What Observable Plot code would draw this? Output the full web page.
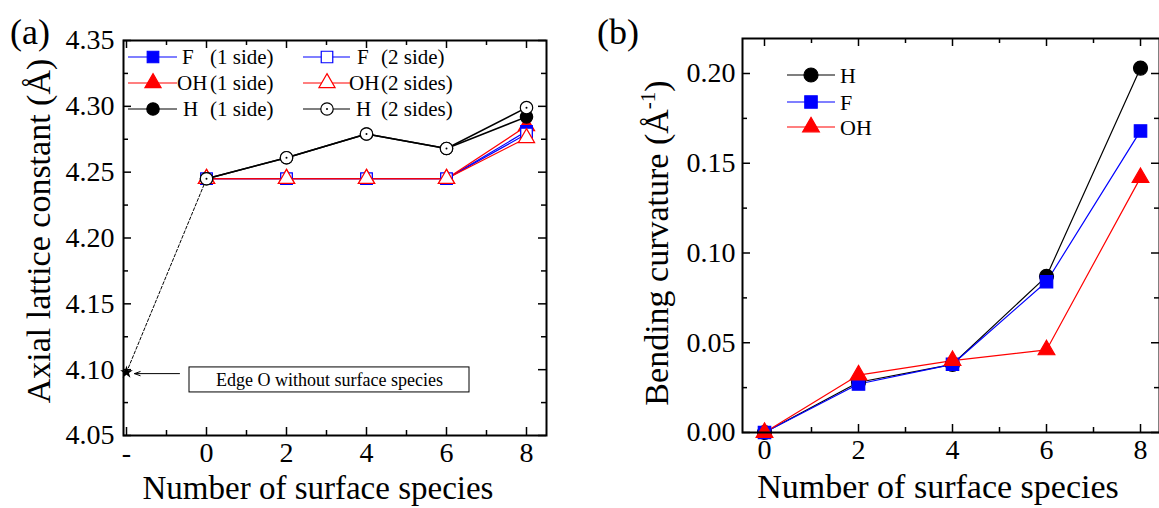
<!DOCTYPE html>
<html><head><meta charset="utf-8">
<script src="https://cdn.jsdelivr.net/npm/d3@7"></script>
<script src="https://cdn.jsdelivr.net/npm/@observablehq/plot@0.6"></script>
<style>
html,body{margin:0;padding:0;background:#fff;}
#wrap{position:relative;width:1159px;height:508px;overflow:hidden;font-family:"Liberation Serif","Times New Roman",serif;}
#wrap svg{position:absolute;top:0;overflow:visible;}
</style></head><body><div id="wrap"></div>
<script>
// ---------- data ----------
const speciesX = [0, 2, 4, 6, 8];
// panel (a): axial lattice constant (Å)
const aF1  = [4.245, 4.245, 4.245, 4.245, 4.281];
const aF2  = [4.245, 4.245, 4.245, 4.245, 4.279];
const aOH1 = [4.245, 4.245, 4.245, 4.245, 4.285];
const aOH2 = [4.245, 4.245, 4.245, 4.245, 4.276];
const aH1  = [4.245, 4.261, 4.279, 4.268, 4.292];
const aH2  = [4.245, 4.261, 4.279, 4.268, 4.299];
const edgeX = [-2];
const edgeY = [4.098];
// panel (b): bending curvature (1/Å)
const bH  = [0, 0.028, 0.038, 0.087, 0.203];
const bF  = [0, 0.027, 0.038, 0.084, 0.168];
const bOH = [0, 0.032, 0.040, 0.046, 0.142];
// ticks
const aXTicks = [-2, 0, 2, 4, 6, 8];
const aXMinor = [-1, 1, 3, 5, 7];
const aYTicks = [4.05, 4.10, 4.15, 4.20, 4.25, 4.30, 4.35];
const aYMinor = [4.075, 4.125, 4.175, 4.225, 4.275, 4.325];
const bXTicks = [0, 2, 4, 6, 8];
const bXMinor = [1, 3, 5, 7];
const bYTicks = [0, 0.05, 0.10, 0.15, 0.20];
const bYMinor = [0.025, 0.075, 0.125, 0.175];
// annotation in panel (a)
const noteText = "Edge O without surface species";
const noteBox = [{x1: -0.425, x2: 6.575, y1: 4.0827, y2: 4.1017}];
const noteArrow = [{x1: -0.675, x2: -1.8, y1: 4.097, y2: 4.097}];

// ---------- helpers ----------
const FONT = "Liberation Serif, Times New Roman, serif";
const rows = (ys) => speciesX.map((x, i) => ({x, y: ys[i]}));
const H = 508;

function inwardTicks(xMaj, xMin, yMaj, yMin, iw, ih) {
  const M = 8, m = 5, sw = 1.5;
  return [
    Plot.tickX(xMaj, {x: d => d, insetTop: ih - M, strokeWidth: sw}),
    Plot.tickX(xMaj, {x: d => d, insetBottom: ih - M, strokeWidth: sw}),
    Plot.tickX(xMin, {x: d => d, insetTop: ih - m, strokeWidth: sw}),
    Plot.tickX(xMin, {x: d => d, insetBottom: ih - m, strokeWidth: sw}),
    Plot.tickY(yMaj, {y: d => d, insetRight: iw - M, strokeWidth: sw}),
    Plot.tickY(yMaj, {y: d => d, insetLeft: iw - M, strokeWidth: sw}),
    Plot.tickY(yMin, {y: d => d, insetRight: iw - m, strokeWidth: sw}),
    Plot.tickY(yMin, {y: d => d, insetLeft: iw - m, strokeWidth: sw})
  ];
}

function seriesMarks(ys, s) {
  return Plot.dot(rows(ys), {
    x: "x", y: "y", symbol: s.symbol, r: s.r,
    fill: s.filled ? s.color : "white", stroke: s.color, strokeWidth: 1.2
  });
}

function addLegendItem(svg, s, x0, x1, xm, y) {
  const g = d3.select(svg).append("g");
  g.append("line").attr("x1", x0).attr("x2", x1).attr("y1", y).attr("y2", y)
    .attr("stroke", s.color).attr("stroke-width", 1.2);
  const symMap = {square: d3.symbolSquare, triangle: d3.symbolTriangle, circle: d3.symbolCircle};
  g.append("path").attr("d", d3.symbol(symMap[s.symbol], Math.PI * s.r * s.r)())
    .attr("transform", `translate(${xm},${y})`)
    .attr("fill", s.filled ? s.color : "white").attr("stroke", s.color).attr("stroke-width", 1.2);
  if (s.dotted) g.append("circle").attr("cx", xm).attr("cy", y).attr("r", 1).attr("fill", "black");
}

function addText(svg, txt, x, y, size, opts = {}) {
  const t = d3.select(svg).append("text").attr("x", x).attr("y", y)
    .attr("font-size", size).attr("font-family", FONT).attr("fill", "black")
    .attr("text-anchor", opts.anchor || "start").style("white-space", "pre");
  if (opts.transform) t.attr("transform", opts.transform);
  t.text(txt);
  return t;
}

// ---------- panel (a) ----------
const sA = {
  F1:  {color: "#0000ff", symbol: "square",   r: 6.5, filled: true},
  F2:  {color: "#0000ff", symbol: "square",   r: 6.5, filled: false},
  OH1: {color: "#ff0000", symbol: "triangle", r: 6,   filled: true},
  OH2: {color: "#ff0000", symbol: "triangle", r: 6,   filled: false},
  H1:  {color: "#000000", symbol: "circle",   r: 6.2, filled: true},
  H2:  {color: "#000000", symbol: "circle",   r: 6.2, filled: false, dotted: true}
};
const WA = 580, mA = {l: 123, t: 40, r: 34, b: 73};
const iwA = WA - mA.l - mA.r, ihA = H - mA.t - mA.b;
const edgeLink = [{x: edgeX[0], y: edgeY[0]}, {x: speciesX[0], y: aH1[0]}];

const plotA = Plot.plot({
  width: WA, height: H,
  marginLeft: mA.l, marginTop: mA.t, marginRight: mA.r, marginBottom: mA.b,
  x: {domain: [-2.075, 8.5], label: null},
  y: {domain: [4.05, 4.35], label: null},
  style: {fontFamily: FONT, fontSize: "28px", color: "black", background: "transparent", overflow: "visible"},
  marks: [
    ...inwardTicks(aXTicks, aXMinor, aYTicks, aYMinor, iwA, ihA),
    Plot.axisX({ticks: aXTicks, tickSize: 0, tickPadding: 7, label: null, tickFormat: d => d === -2 ? "-" : String(d)}),
    Plot.axisY({ticks: aYTicks, tickSize: 0, tickPadding: 9, label: null, tickFormat: d3.format(".2f")}),
    Plot.line(edgeLink, {x: "x", y: "y", stroke: "black", strokeWidth: 1, strokeDasharray: "3,2"}),
    Plot.line(rows(aF1),  {x: "x", y: "y", stroke: sA.F1.color, strokeWidth: 1.2}),
    Plot.line(rows(aF2),  {x: "x", y: "y", stroke: sA.F2.color, strokeWidth: 1.2}),
    Plot.line(rows(aOH1), {x: "x", y: "y", stroke: sA.OH1.color, strokeWidth: 1.2}),
    Plot.line(rows(aOH2), {x: "x", y: "y", stroke: sA.OH2.color, strokeWidth: 1.2}),
    Plot.line(rows(aH1),  {x: "x", y: "y", stroke: "black", strokeWidth: 1.5}),
    Plot.line(rows(aH2),  {x: "x", y: "y", stroke: "black", strokeWidth: 1.5}),
    seriesMarks(aOH1, sA.OH1),
    seriesMarks(aF1, sA.F1),
    seriesMarks(aF2, sA.F2),
    seriesMarks(aOH2, sA.OH2),
    seriesMarks(aH1, sA.H1),
    seriesMarks(aH2, sA.H2),
    Plot.dot(rows(aH2), {x: "x", y: "y", r: 1, fill: "black"}),
    Plot.dot(edgeX.map((x, i) => ({x, y: edgeY[i]})), {x: "x", y: "y", symbol: "star", r: 4, fill: "black"}),
    Plot.arrow(noteArrow, {x1: "x1", y1: "y1", x2: "x2", y2: "y2", stroke: "black", strokeWidth: 1, headLength: 9, headAngle: 40}),
    Plot.rect(noteBox, {x1: "x1", x2: "x2", y1: "y1", y2: "y2", fill: "white", stroke: "black", strokeWidth: 1}),
    Plot.text(noteBox, {x: d => (d.x1 + d.x2) / 2, y: d => (d.y1 + d.y2) / 2, text: () => noteText, fontSize: 18, fill: "black"}),
    Plot.frame({stroke: "black", strokeWidth: 2})
  ]
});
plotA.style.left = "0px";
document.getElementById("wrap").appendChild(plotA);

// legend (a)
const legA = [
  [sA.F1, "F", "(1 side)", 0, 182], [sA.F2, "F", "(2 side)", 1, 357],
  [sA.OH1, "OH", "(1 side)", 0, 177], [sA.OH2, "OH", "(2 sides)", 1, 349],
  [sA.H1, "H", "(1 side)", 0, 183], [sA.H2, "H", "(2 sides)", 1, 356]
];
const legAy = [57, 57, 83, 83, 109, 109];
legA.forEach(([s, name, side, col, tx], i) => {
  const y = legAy[i];
  if (col === 0) { addLegendItem(plotA, s, 128, 177, 153, y); }
  else { addLegendItem(plotA, s, 303, 350, 327, y); }
  addText(plotA, name, tx, y + 7, 21);
  addText(plotA, side, col === 0 ? 210 : 381, y + 7, 21);
});
addText(plotA, "(a)", 10, 44, 36);
addText(plotA, "Number of surface species", 318, 499, 33, {anchor: "middle"});
addText(plotA, "Axial lattice constant (Å)", 0, 0, 34, {anchor: "middle", transform: "translate(50,231) rotate(-90)"});

// ---------- panel (b) ----------
const sB = {
  H:  {color: "#000000", symbol: "circle",   r: 7, filled: true},
  F:  {color: "#0000ff", symbol: "square",   r: 7, filled: true},
  OH: {color: "#ff0000", symbol: "triangle", r: 6.2, filled: true}
};
const OFFB = 580, WB = 579, mB = {l: 162, t: 38, r: 0, b: 76};
const iwB = WB - mB.l - mB.r, ihB = H - mB.t - mB.b;
const plotB = Plot.plot({
  width: WB, height: H,
  marginLeft: mB.l, marginTop: mB.t, marginRight: mB.r, marginBottom: mB.b,
  x: {domain: [-0.468, 8.404], label: null},
  y: {domain: [0, 0.2195], label: null},
  style: {fontFamily: FONT, fontSize: "28px", color: "black", background: "transparent", overflow: "visible"},
  marks: [
    ...inwardTicks(bXTicks, bXMinor, bYTicks, bYMinor, iwB, ihB),
    Plot.axisX({ticks: bXTicks, tickSize: 0, tickPadding: 7, label: null, tickFormat: d => String(d)}),
    Plot.axisY({ticks: bYTicks, tickSize: 0, tickPadding: 7, label: null, tickFormat: d3.format(".2f")}),
    Plot.line(rows(bH),  {x: "x", y: "y", stroke: sB.H.color, strokeWidth: 1.2}),
    Plot.line(rows(bF),  {x: "x", y: "y", stroke: sB.F.color, strokeWidth: 1.2}),
    Plot.line(rows(bOH), {x: "x", y: "y", stroke: sB.OH.color, strokeWidth: 1.2}),
    seriesMarks(bH, sB.H),
    seriesMarks(bF, sB.F),
    seriesMarks(bOH, sB.OH),
    Plot.frame({stroke: "black", strokeWidth: 2})
  ]
});
plotB.style.left = OFFB + "px";
document.getElementById("wrap").appendChild(plotB);

const legB = [[sB.H, "H"], [sB.F, "F"], [sB.OH, "OH"]];
const legBy = [75, 102, 127];
legB.forEach(([s, name], i) => {
  addLegendItem(plotB, s, 207, 255, 231, legBy[i]);
  addText(plotB, name, 260, legBy[i] + 8, 22);
});
addText(plotB, "(b)", 17, 44, 36);
addText(plotB, "Number of surface species", 358, 498, 34, {anchor: "middle"});
const yt = addText(plotB, "", 0, 0, 34, {anchor: "middle", transform: "translate(88,243) rotate(-90)"});
yt.append("tspan").text("Bending curvature (Å");
yt.append("tspan").attr("dy", -13).attr("font-size", 21).text("-1");
yt.append("tspan").attr("dy", 13).text(")");
</script>
</body></html>
